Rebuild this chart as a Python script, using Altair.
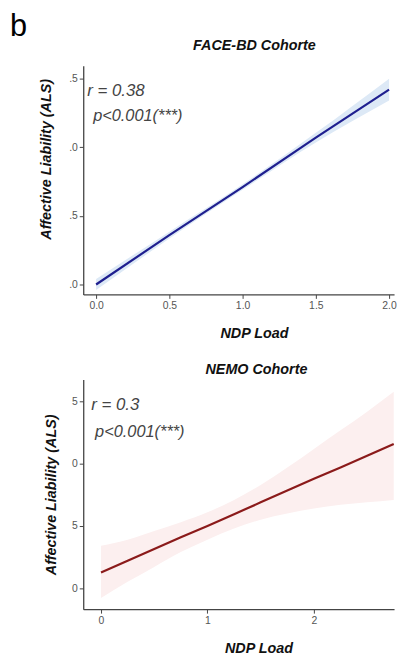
import altair as alt
import pandas as pd

FONT = "Liberation Sans"

# ---- Panel 1: FACE-BD Cohorte ----
top_x = [0.0, 0.5, 1.0, 1.5, 2.0]
top_fit = [1.00, 1.36, 1.71, 2.07, 2.42]
top_lo = [0.96, 1.335, 1.69, 2.035, 2.34]
top_hi = [1.04, 1.385, 1.73, 2.105, 2.50]
top_xticks = [0.0, 0.5, 1.0, 1.5, 2.0]
top_yticks = [1.0, 1.5, 2.0, 2.5]

# ---- Panel 2: NEMO Cohorte ----
bot_x = [0.0, 0.25, 0.5, 0.75, 1.0, 1.25, 1.5, 1.75, 2.0, 2.25, 2.5, 2.75]
bot_fit = [11.26, 12.2, 13.15, 14.1, 15.0, 15.95, 16.9, 17.85, 18.8, 19.7, 20.65, 21.6]
bot_lo = [9.2, 10.5, 11.7, 12.9, 13.9, 14.8, 15.5, 16.0, 16.4, 16.7, 16.9, 17.1]
bot_hi = [13.4, 13.9, 14.6, 15.3, 16.1, 17.1, 18.3, 19.7, 21.2, 22.7, 24.2, 25.8]
bot_xticks = [0, 1, 2]
bot_yticks = [10, 15, 20, 25]

W, H1, H2 = 314, 231, 232


def axis_common(**kw):
    base = dict(
        grid=False,
        domainColor="#444",
        domainWidth=1.3,
        tickColor="#444",
        tickSize=4,
        labelColor="#555",
        labelFont=FONT,
        labelFontSize=10.5,
        labelPadding=2,
        titleFont=FONT,
        titleFontSize=14.5,
        titleFontStyle="italic",
        titleFontWeight="bold",
        titleColor="#111",
        titleAlign="center",
        titleBaseline="middle",
    )
    base.update(kw)
    return alt.Axis(**base)


def text_layer(txt, x, y, size, color, weight="normal", style="italic", align="left"):
    return alt.Chart(pd.DataFrame({"t": [txt]})).mark_text(
        font=FONT, fontSize=size, fontStyle=style, fontWeight=weight,
        color=color, align=align, baseline="middle",
    ).encode(x=alt.value(x), y=alt.value(y), text="t:N")


def panel(xs, fit, lo, hi, xdom, ydom, xticks, yticks, xfmt, yfmt,
          line_color, band_color, band_opacity,
          xtitle_x, xtitle_y, ytitle_x, ytitle_y):
    df = pd.DataFrame({"x": xs, "fit": fit, "lo": lo, "hi": hi})
    xenc = alt.X(
        "x:Q",
        scale=alt.Scale(domain=xdom, nice=False, zero=False),
        axis=axis_common(values=xticks, format=xfmt, title="NDP Load",
                         titleX=xtitle_x, titleY=xtitle_y),
    )
    yscale = alt.Scale(domain=ydom, nice=False, zero=False)
    yaxis = axis_common(values=yticks, format=yfmt,
                        labelExpr="substring(datum.label, 1)",
                        title="Affective Liability (ALS)",
                        titleX=ytitle_x, titleY=ytitle_y)
    band = alt.Chart(df).mark_area(color=band_color, opacity=band_opacity,
                                   interpolate="monotone").encode(
        x=xenc, y=alt.Y("lo:Q", scale=yscale, axis=yaxis), y2="hi:Q"
    )
    line = alt.Chart(df).mark_line(color=line_color, strokeWidth=2.2).encode(
        x=xenc, y=alt.Y("fit:Q", scale=yscale, axis=yaxis)
    )
    return band, line


band1, line1 = panel(top_x, top_fit, top_lo, top_hi, [-0.088, 2.034], [0.928, 2.594],
                     top_xticks, top_yticks, ".1f", ".1f",
                     "#1f1f8f", "#dde9f6", 1.0,
                     172.5, 40, -37.5, 94)
top = alt.layer(
    band1, line1,
    text_layer("b", -74, -39, 31, "#000", style="normal"),
    text_layer("FACE-BD Cohorte", 173, -20, 14.5, "#111", weight="bold", align="center"),
    text_layer("r = 0.38", 4, 26, 17, "#444"),
    text_layer("p<0.001(***)", 10, 51, 16.5, "#444"),
).properties(width=W, height=H1)

band2, line2 = panel(bot_x, bot_fit, bot_lo, bot_hi, [-0.167, 2.753], [8.30, 26.79],
                     bot_xticks, bot_yticks, "d", "d",
                     "#8b1a1a", "#fcefef", 1.0,
                     177, 40, -32, 116)
bottom = alt.layer(
    band2, line2,
    text_layer("NEMO Cohorte", 175, -9.5, 14.5, "#111", weight="bold", align="center"),
    text_layer("r = 0.3", 8, 26, 17, "#444"),
    text_layer("p<0.001(***)", 12, 53, 16.5, "#444"),
).properties(width=W, height=H2)

chart = alt.vconcat(top, bottom, spacing=21).properties(
    padding={"left": 2, "top": 0, "right": 0, "bottom": 0}
).configure_view(stroke=None)

chart.save("out.html", embed_options={"renderer": "svg", "actions": False})
